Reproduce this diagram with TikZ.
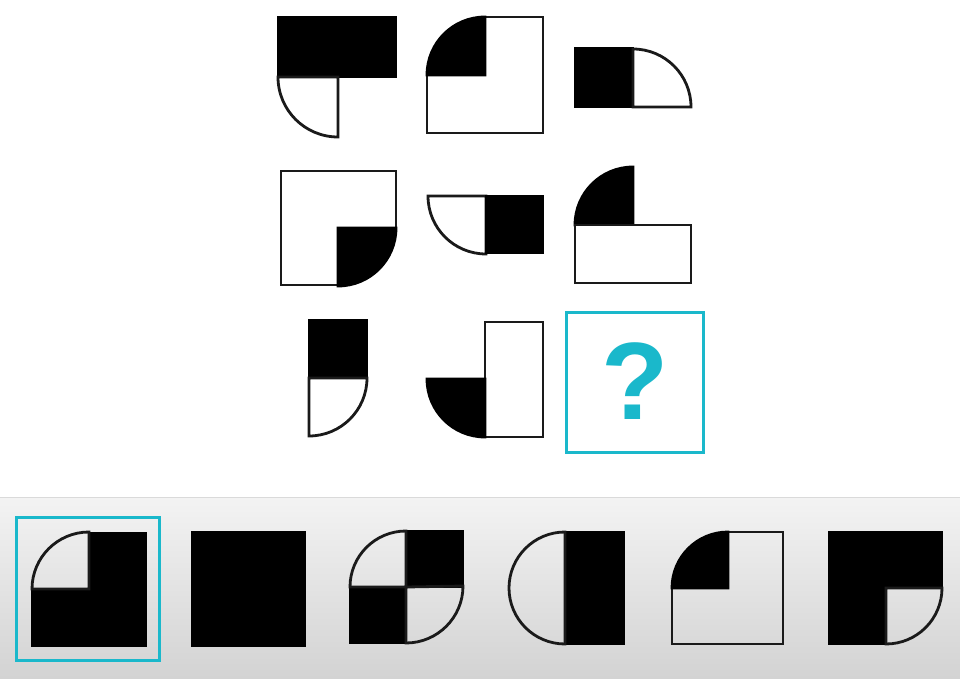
\documentclass[tikz,border=0pt]{standalone}
\usepackage{fontspec}
\setmainfont{Liberation Sans}
\definecolor{qcyan}{HTML}{1AB8CB}
\definecolor{paneltop}{HTML}{F3F3F3}
\definecolor{panelbot}{HTML}{D3D3D3}
\definecolor{panelline}{HTML}{DADADA}
\definecolor{edge}{HTML}{1A1A1A}
\tikzset{
  blk/.style={fill=black,draw=black,line width=2.8pt,line join=miter},
  wht/.style={fill=white,draw=edge,line width=2.8pt,line join=miter},
  clr/.style={draw=edge,line width=2.8pt,line join=miter},
  selbox/.style={draw=qcyan,line width=3pt},
}
\begin{document}
\begin{tikzpicture}[x=1pt,y=1pt]
\useasboundingbox (0,0) rectangle (960,678);
\fill[white] (0,0) rectangle (960,678);
% answer panel
\shade[top color=paneltop,bottom color=panelbot] (0,0) rectangle (960,181);
\draw[panelline,line width=1pt] (0,181) -- (960,181);

% ---------- grid row 1 ----------
% cell 1,1
\path[blk] (278,661) rectangle (396,601);
\path[wht] (338,601) -- (278,601) arc(180:270:60) -- cycle;
% cell 1,2
\path[wht] (485,661) -- (543,661) -- (543,545) -- (427,545) -- (427,603) -- (485,603) -- cycle;
\path[blk] (485,603) -- (485,661) arc(90:180:58) -- cycle;
% cell 1,3
\path[blk] (575,630) rectangle (633,571);
\path[wht] (633,571) -- (691,571) arc(0:90:58) -- cycle;

% ---------- grid row 2 ----------
% cell 2,1
\path[wht] (281,507) -- (396,507) -- (396,450) -- (338,450) -- (338,393) -- (281,393) -- cycle;
\path[blk] (338,450) -- (338,392) arc(270:360:58) -- cycle;
% cell 2,2
\path[wht] (486,482) -- (428,482) arc(180:270:58) -- cycle;
\path[blk] (486,482) rectangle (543,425);
% cell 2,3
\path[blk] (633,453) -- (633,511) arc(90:180:58) -- cycle;
\path[wht] (575,453) rectangle (691,395);

% ---------- grid row 3 ----------
% cell 3,1
\path[blk] (309,358) rectangle (367,300);
\path[wht] (309,300) -- (309,242) arc(270:360:58) -- cycle;
% cell 3,2
\path[wht] (485,356) rectangle (543,241);
\path[blk] (485,299) -- (427,299) arc(180:270:58) -- cycle;
% cell 3,3
\draw[selbox] (566,365) rectangle (703,226);
\node[text=qcyan,font=\bfseries\fontsize{110}{110}\selectfont,inner sep=0pt] (qmark) at (635,297) {?};

% ---------- answers ----------
% A1
\draw[selbox] (16,161) rectangle (159,18);
\path[blk] (89,145) -- (146,145) -- (146,32) -- (32,32) -- (32,89) -- (89,89) -- cycle;
\path[clr] (89,89) -- (89,146) arc(90:180:57) -- cycle;
% A2
\path[blk] (192,146) rectangle (305,32);
% A3
\path[blk] (406,91) rectangle (463,147);
\path[blk] (350,35) rectangle (406,91);
\path[clr] (406,91) -- (406,147) arc(90:180:56) -- cycle;
\path[clr] (406,91) -- (406,35) arc(270:360:57) -- cycle;
% A4
\path[blk] (565,146) rectangle (624,34);
\path[clr] (565,146) arc(90:270:56) -- cycle;
% A5
\path[clr] (728,146) -- (783,146) -- (783,34) -- (672,34) -- (672,90) -- (728,90) -- cycle;
\path[blk] (728,90) -- (728,146) arc(90:180:56) -- cycle;
% A6
\path[blk] (829,146) -- (942,146) -- (942,90) -- (886,90) -- (886,34) -- (829,34) -- cycle;
\path[clr] (886,90) -- (886,34) arc(270:360:56) -- cycle;
\end{tikzpicture}
\end{document}
